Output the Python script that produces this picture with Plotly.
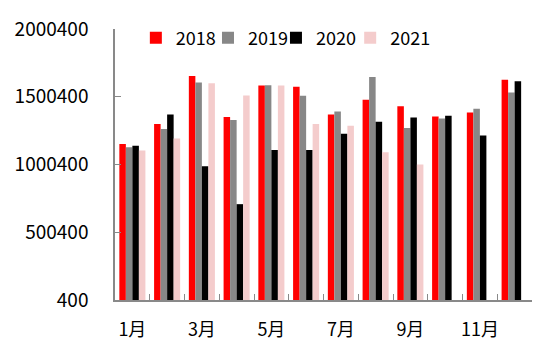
import plotly.graph_objects as go

months = ["1月", "2月", "3月", "4月", "5月", "6月", "7月", "8月", "9月", "10月", "11月", "12月"]
tick_labels = ["1月", "", "3月", "", "5月", "", "7月", "", "9月", "", "11月", ""]

v2018 = [1151000, 1299500, 1653000, 1350300, 1583000, 1573400, 1369800, 1478800, 1430300, 1355300, 1384300, 1626700]
v2019 = [1127000, 1263000, 1605000, 1328500, 1585500, 1507800, 1391500, 1646000, 1270300, 1340800, 1411000, 1532000]
v2020 = [1139600, 1369500, 986700, 707700, 1107800, 1107800, 1226700, 1316400, 1348000, 1360000, 1214600, 1614500]
v2021 = [1103000, 1193000, 1600000, 1510400, 1583000, 1299500, 1287300, 1091000, 1001300, None, None, None]

y_ticks = [400, 500400, 1000400, 1500400, 2000400]

series = [("2018", v2018, "#FF0000"), ("2019", v2019, "#878787"),
          ("2020", v2020, "#000000"), ("2021", v2021, "#F4CCCC")]

# one legend box per series so each entry sits where the reference puts it
legend_ids = ["legend", "legend2", "legend3", "legend4"]
legend_x = [0.050, 0.223, 0.386, 0.564]

fig = go.Figure()
for (name, vals, color), lid in zip(series, legend_ids):
    fig.add_trace(go.Bar(x=months, y=vals, name=name, legend=lid,
                         marker=dict(color=color, line=dict(width=0))))

font_family = "Noto Sans CJK SC"
legend_style = dict(orientation="h", y=1.035, xanchor="left", yanchor="top",
                    font=dict(size=18), bgcolor="rgba(0,0,0,0)", itemwidth=30)

fig.update_layout(
    width=550, height=355,
    margin=dict(l=107, r=26, t=17, b=63),
    paper_bgcolor="white", plot_bgcolor="white",
    barmode="group", bargap=0.25, bargroupgap=0,
    font=dict(family=font_family, size=18, color="#000000"),
    showlegend=True,
    xaxis=dict(
        type="category", tickmode="array", tickvals=months, ticktext=tick_labels,
        tickson="boundaries", ticks="inside", ticklen=6, tickcolor="#898989",
        showline=True, linecolor="#898989", linewidth=1.5, tickangle=0,
        showgrid=False, zeroline=False, tickfont=dict(size=18), automargin=False,
        ticklabelstandoff=13,
    ),
    yaxis=dict(
        range=[400, 2000400], tickmode="array", tickvals=y_ticks,
        ticktext=[str(t) for t in y_ticks],
        ticks="inside", ticklen=6, tickcolor="#898989",
        showline=True, linecolor="#898989", linewidth=1.5,
        showgrid=False, zeroline=False, tickfont=dict(size=19),
        ticklabelstandoff=21, automargin=False,
    ),
)
for lid, lx in zip(legend_ids, legend_x):
    fig.update_layout({lid: dict(legend_style, x=lx)})

fig.write_html("out.html")
